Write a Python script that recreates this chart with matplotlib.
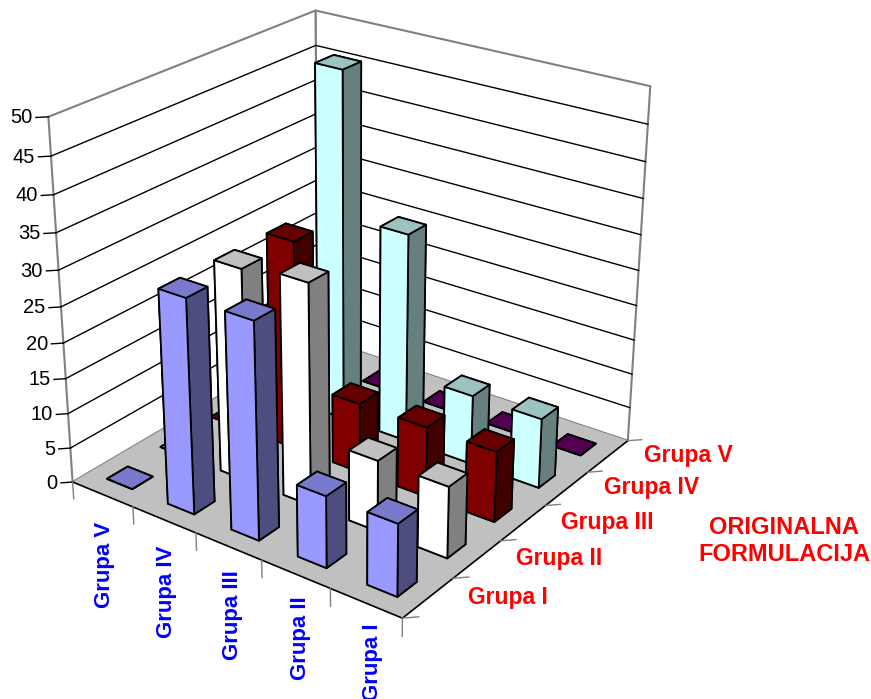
import matplotlib
matplotlib.use('Agg')
from matplotlib import pyplot as plt
from mpl_toolkits.mplot3d import proj3d
from mpl_toolkits.mplot3d.art3d import Poly3DCollection

plt.rcParams['font.family'] = ['Liberation Sans', 'DejaVu Sans']

# columns along the left floor edge, back to front
col_labels = ['Grupa V', 'Grupa IV', 'Grupa III', 'Grupa II', 'Grupa I']
# rows along the right floor edge, front to back
row_labels = ['Grupa I', 'Grupa II', 'Grupa III', 'Grupa IV', 'Grupa V']
z_ticks = [0, 5, 10, 15, 20, 25, 30, 35, 40, 45, 50]

grupa_1 = [0, 30, 30, 10, 10]
grupa_2 = [0, 30, 31, 10, 10]
grupa_3 = [0, 30, 10, 10, 10]
grupa_4 = [0, 50, 30, 10, 10]
grupa_5 = [0, 0, 0, 0, 0]
rows = [grupa_1, grupa_2, grupa_3, grupa_4, grupa_5]

# front(-y), side(+x), top
row_colors = [
    ('#9999FF', '#4D4D80', '#7A7ACC'),
    ('#FFFFFF', '#808080', '#C0C0C0'),
    ('#800000', '#400000', '#660000'),
    ('#CCFFFF', '#668080', '#9CC2C2'),
    ('#660066', '#330033', '#520052'),
]

fig = plt.figure(figsize=(8.71, 6.99), dpi=100)
ax = fig.add_axes([-0.103, 0.074, 1, 1], projection='3d', computed_zorder=False)
ax.set_proj_type('persp', focal_length=0.55)
ax.view_init(elev=25, azim=-53.5)
ax.set_box_aspect((1.0, 1.0, 0.96), zoom=0.98)
ax.set_xlim(0, 5)
ax.set_ylim(0, 5)
ax.set_zlim(0, 50)
ax.set_axis_off()


def label(x, y, z, s, **kw):
    # plain 2D text at a projected point, Text3D would overwrite the rotation
    px, py, _ = proj3d.proj_transform(x, y, z, ax.get_proj())
    return ax.text2D(px, py, s, transform=ax.transData, clip_on=False, **kw)


# walls and floor
wall_gray = '#808080'
ax.add_collection3d(Poly3DCollection([[(0, 0, 0), (0, 5, 0), (0, 5, 50), (0, 0, 50)],
                                      [(0, 5, 0), (5, 5, 0), (5, 5, 50), (0, 5, 50)]],
                                     facecolors='white', edgecolors=wall_gray, linewidths=1.5, zorder=1))
ax.add_collection3d(Poly3DCollection([[(0, 0, 0), (5, 0, 0), (5, 5, 0), (0, 5, 0)]],
                                     facecolors='#C0C0C0', edgecolors='none', zorder=2))

for z in z_ticks[1:-1]:
    ax.plot([0, 0, 5], [0, 5, 5], [z, z, z], color='black', lw=1, zorder=1.5)

# floor edges and ticks
ax.plot([0, 5, 5], [0, 0, 5], [0, 0, 0], color='black', lw=1.2, zorder=3)
for z in z_ticks:
    ax.plot([0, -0.1], [0, -0.1], [z, z], color='black', lw=1, zorder=3)
    label(-0.13, -0.13, z, str(z), ha='right', va='center', fontsize=14.5, color='black')
for i in range(6):
    ax.plot([i, i], [0, 0], [0, -2.5], color=wall_gray, lw=1, zorder=3)
    ax.plot([5, 5.13], [i, i + 0.13], [0, 0], color=wall_gray, lw=1, zorder=3)

# bars, painted back to front
bar_dx = 0.42
bar_dy = 0.38
for r in range(4, -1, -1):
    front, side, top = row_colors[r]
    for c in range(5):
        bar = ax.bar3d(c + 0.5 - bar_dx / 2, r + 0.5 - bar_dy / 2, 0, bar_dx, bar_dy, rows[r][c],
                       color=[top, top, front, front, side, side],
                       edgecolor='black', linewidth=1.3, shade=False)
        bar.set_zorder(10 + (4 - r) * 10 + c)

for c, name in enumerate(col_labels):
    label(c + 0.85, -0.35, -1 + 0.4 * c, name, rotation=90, ha='center', va='top',
          fontsize=16, fontweight='bold', color='#0000FF')
for r, name in enumerate(row_labels):
    label(5.4, r + 0.7, 0.6, name, ha='left', va='center',
          fontsize=16.5, fontweight='bold', color='#FF0000')

fig.text(784 / 871, 1 - 541 / 699, 'ORIGINALNA\nFORMULACIJA', ha='center', va='center',
         fontsize=17, fontweight='bold', color='#FF0000', linespacing=1.25)

fig.savefig('out.png', dpi=100)
